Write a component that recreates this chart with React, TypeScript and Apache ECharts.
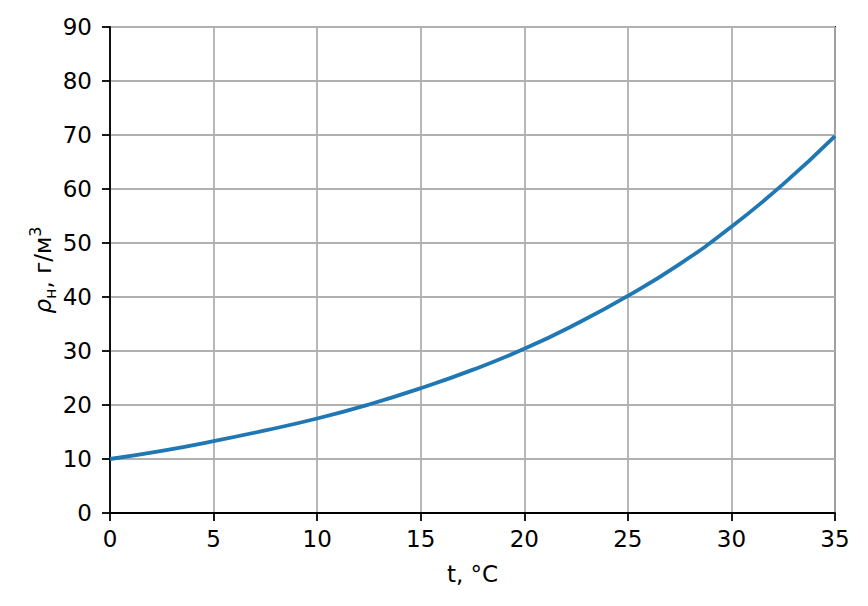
import React, { useEffect, useRef } from "react";
import * as echarts from "echarts";

const temps = [0, 2.5, 5, 7.5, 10, 12.5, 15, 17.5, 20, 22.5, 25, 27.5, 30, 32.5, 35];
const density = [10, 11.5, 13.3, 15.3, 17.5, 20.1, 23.1, 26.5, 30.4, 35.0, 40.2, 46.1, 53.0, 60.9, 69.8];
const xTicks = [0, 5, 10, 15, 20, 25, 30, 35];
const yTicks = [0, 10, 20, 30, 40, 50, 60, 70, 80, 90];

const FONT = "DejaVu Sans";
const FS = 23;

export default function App() {
  const ref = useRef<HTMLDivElement>(null);
  useEffect(() => {
    if (!ref.current) return;
    const chart = echarts.init(ref.current, undefined, { renderer: "svg" });
    const axisCommon = {
      axisLine: { show: true, lineStyle: { color: "#000", width: 1.8 } },
      axisTick: { show: true, inside: false, length: 8, lineStyle: { color: "#000", width: 1.8 } },
      splitLine: { show: true, lineStyle: { color: "#b0b0b0", width: 1.8 } },
      axisLabel: { color: "#000", fontFamily: FONT, fontSize: FS },
    };
    chart.setOption({
      animation: false,
      backgroundColor: "#fff",
      grid: {
        left: 110,
        right: 33,
        top: 27,
        bottom: 93,
        show: true,
        borderColor: "#000",
        borderWidth: 1.8,
        backgroundColor: "transparent",
      },
      xAxis: {
        type: "value",
        min: 0,
        max: 35,
        interval: 5,
        ...axisCommon,
        axisLabel: { ...axisCommon.axisLabel, margin: 14, formatter: (v: number) => (xTicks.includes(v) ? String(v) : "") },
        name: "t, °C",
        nameLocation: "middle",
        nameGap: 49,
        nameTextStyle: { color: "#000", fontFamily: FONT, fontSize: FS },
      },
      yAxis: {
        type: "value",
        min: 0,
        max: 90,
        interval: 10,
        ...axisCommon,
        axisLabel: { ...axisCommon.axisLabel, margin: 18, formatter: (v: number) => (yTicks.includes(v) ? String(v) : "") },
      },
      graphic: [
        {
          type: "text",
          x: 43,
          y: 270,
          rotation: Math.PI / 2,
          style: {
            text: "{a|ρ}{b|н}{c|, г/м}{d|3}",
            align: "center",
            verticalAlign: "middle",
            fill: "#000",
            rich: {
              a: { fontFamily: FONT, fontStyle: "italic", fontSize: FS, lineHeight: 34, verticalAlign: "middle" },
              b: { fontFamily: FONT, fontSize: 16, lineHeight: 34, verticalAlign: "bottom", padding: [0, 0, 2, 0] },
              c: { fontFamily: FONT, fontSize: FS, lineHeight: 34, verticalAlign: "middle" },
              d: { fontFamily: FONT, fontSize: 16, lineHeight: 34, verticalAlign: "top", padding: [1, 0, 0, 0] },
            },
          },
        },
      ],
      series: [
        {
          type: "line",
          data: temps.map((t, i) => [t, density[i]]),
          smooth: true,
          showSymbol: false,
          lineStyle: { color: "#1f77b4", width: 3.8 },
        },
      ],
    });
    return () => chart.dispose();
  }, []);
  return <div ref={ref} style={{ width: 868, height: 606, position: "absolute", left: 0, top: 0 }} />;
}
